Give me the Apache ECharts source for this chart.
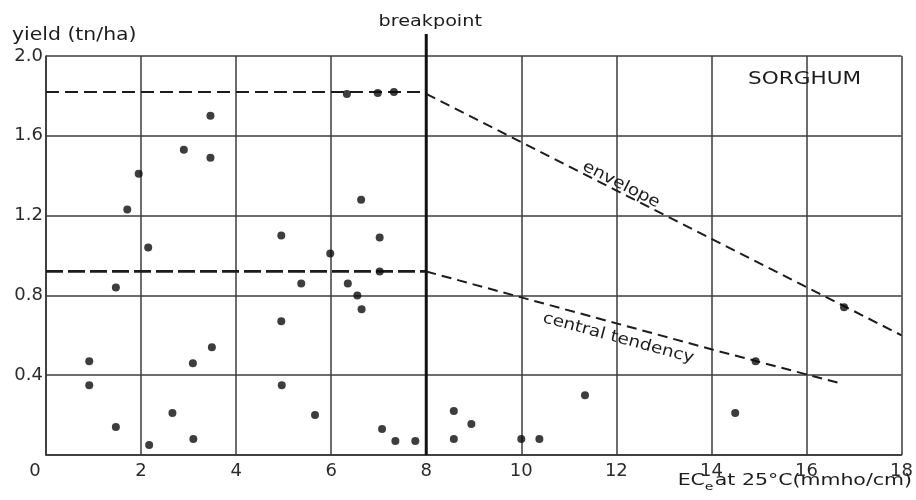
<!DOCTYPE html>
<html>
<head>
<meta charset="utf-8">
<script src="https://cdn.jsdelivr.net/npm/echarts@6/dist/echarts.min.js"></script>
<style>
  html, body { margin: 0; padding: 0; background: #fff; }
  #chart { width: 916px; height: 500px; }
</style>
</head>
<body>
<div id="chart"></div>
<script>
(function(echarts){
  // EC_e at 25 C (mmho/cm) of each field
  var ecValues = [0.91, 0.91, 1.47, 1.47, 1.71, 1.95, 2.15, 2.17, 2.66, 2.90,
                  3.09, 3.10, 3.46, 3.46, 3.49, 4.95, 4.95, 4.96, 5.37, 5.66,
                  5.98, 6.33, 6.35, 6.55, 6.63, 6.64, 6.98, 7.02, 7.02, 7.07,
                  7.32, 7.35, 7.77, 8.58, 8.58, 8.95, 10.0, 10.38, 11.34, 14.50,
                  14.93, 16.79];
  // sorghum yield (tn/ha) of each field
  var yieldValues = [0.47, 0.35, 0.84, 0.14, 1.23, 1.41, 1.04, 0.05, 0.21, 1.53,
                     0.46, 0.08, 1.70, 1.49, 0.54, 1.10, 0.67, 0.35, 0.86, 0.20,
                     1.01, 1.81, 0.86, 0.80, 1.28, 0.73, 1.815, 1.09, 0.92, 0.13,
                     1.82, 0.07, 0.07, 0.22, 0.08, 0.155, 0.08, 0.08, 0.30, 0.21,
                     0.47, 0.74];

  // dashed guide lines
  var upperPlateau = [[0, 1.82], [8, 1.82]];
  var lowerPlateau = [[0, 0.92], [8, 0.92]];
  var envelopeLine = [[8, 1.81], [18, 0.6]];
  var centralLine = [[8, 0.92], [10, 0.79], [14, 0.53], [16.7, 0.36]];
  var breakpointLine = [[8, 0], [8, 2.11]];

  var yTicks = { 0: '0', 0.4: '0.4', 0.8: '0.8', 1.2: '1.2', 1.6: '1.6', 2: '2.0' };

  var points = ecValues.map(function(x, i){ return [x, yieldValues[i]]; });

  var FONT = 'DejaVu Sans';
  var INK = '#1c1c1c';

  function dashed(data, dash, width){
    return {
      type: 'line',
      data: data,
      symbol: 'none',
      silent: true,
      lineStyle: { color: INK, width: width, type: dash }
    };
  }

  var chart = echarts.init(document.getElementById('chart'));

  var option = {
    backgroundColor: '#fff',
    animation: false,
    grid: { left: 46, right: 12, top: 56, bottom: 45 },
    xAxis: {
      type: 'value',
      min: 0, max: 18, interval: 2,
      axisLine: { lineStyle: { color: '#333', width: 1.5 } },
      axisTick: { show: false },
      splitLine: { lineStyle: { color: '#3c3c3c', width: 1.5 } },
      axisLabel: {
        margin: 7,
        color: '#2b2b2b',
        fontFamily: FONT,
        fontSize: 18,
        formatter: function(v){ return v === 0 ? '{z|0}' : String(v); },
        rich: { z: { fontFamily: FONT, fontSize: 18, color: '#2b2b2b', padding: [0, 22, 0, 0] } }
      }
    },
    yAxis: {
      type: 'value',
      min: 0, max: 2, interval: 0.4,
      axisLine: { lineStyle: { color: '#333', width: 1.5 } },
      axisTick: { show: false },
      splitLine: { lineStyle: { color: '#3c3c3c', width: 1.5 } },
      axisLabel: {
        margin: 3,
        showMinLabel: false,
        padding: [8, 0, 0, 0],
        color: '#2b2b2b',
        fontFamily: FONT,
        fontSize: 18,
        formatter: function(v){ return yTicks[Math.round(v * 10) / 10]; }
      }
    },
    series: [
      {
        type: 'scatter',
        data: points,
        symbolSize: 8,
        itemStyle: { color: '#0d0d0d' },
        z: 5
      },
      dashed(upperPlateau, [13, 6], 2),
      dashed(lowerPlateau, [17, 5], 2.8),
      dashed(envelopeLine, [10, 6], 2),
      dashed(centralLine, [10, 6], 2),
      {
        type: 'line',
        data: breakpointLine,
        symbol: 'none',
        silent: true,
        clip: false,
        lineStyle: { color: '#111', width: 3 }
      }
    ]
  };

  chart.setOption(option);

  // rotated labels along the guide lines
  function px(p){ return chart.convertToPixel({ gridIndex: 0 }, p); }
  function slope(a, b){
    var p1 = px(a), p2 = px(b);
    return -Math.atan2(p2[1] - p1[1], p2[0] - p1[0]);
  }
  var envPos = px([12.1, 1.355]);
  var cenPos = px([12.04, 0.585]);
  var bpTop = px([8, 2.11]);

  function label(text, x, y, size, opts){
    return {
      type: 'text',
      x: x, y: y,
      scaleX: opts.scaleX || 1.2,
      rotation: opts.rotation || 0,
      style: {
        text: text,
        fill: INK,
        font: size + 'px "' + FONT + '"',
        textAlign: opts.align || 'center',
        textVerticalAlign: 'middle',
        rich: opts.rich
      },
      z: 10
    };
  }

  chart.setOption({
    graphic: [
      label('yield (tn/ha)', 12, 36, 17, { align: 'left' }),
      label('breakpoint', bpTop[0] + 4, 22, 16, {}),
      label('SORGHUM', 748, 79, 18, { align: 'left' }),
      label('EC{s|e}at 25°C(mmho/cm)', 912, 481, 16, {
        align: 'right', scaleX: 1.28,
        rich: { s: { font: '11px "' + FONT + '"', fill: INK, padding: [12, 1, 0, 0] } }
      }),
      label('envelope', envPos[0], envPos[1], 16,
            { scaleX: 1.15, rotation: slope(envelopeLine[0], envelopeLine[1]) }),
      label('central tendency', cenPos[0], cenPos[1], 16,
            { scaleX: 1.15, rotation: slope(centralLine[0], centralLine[3]) })
    ]
  });
})(echarts);
</script>
</body>
</html>
